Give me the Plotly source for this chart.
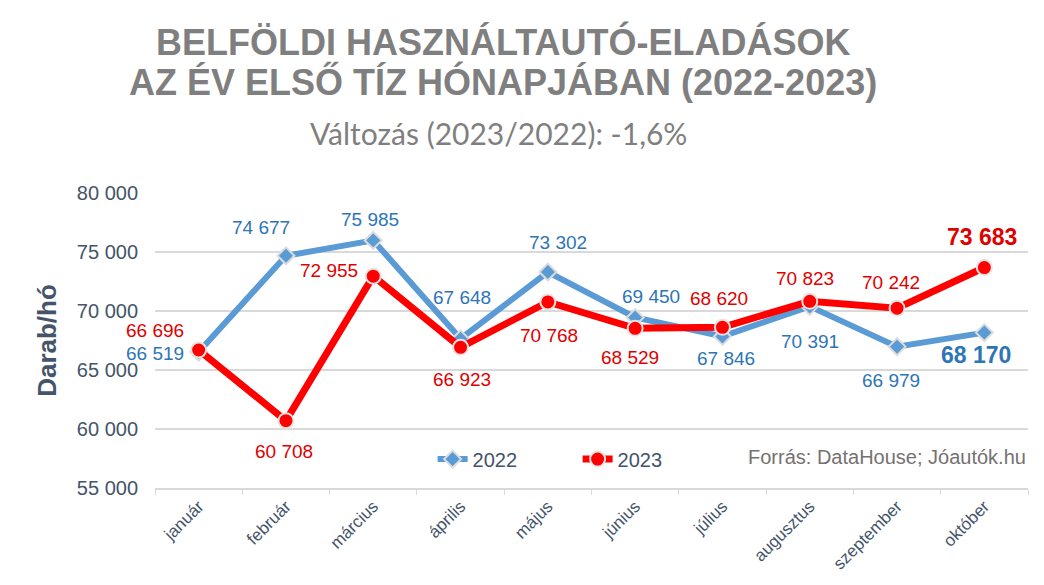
import plotly.graph_objects as go

months = ["január", "február", "március", "április", "május",
          "június", "július", "augusztus", "szeptember", "október"]
sales_2022 = [66519, 74677, 75985, 67648, 73302, 69450, 67846, 70391, 66979, 68170]
sales_2023 = [66696, 60708, 72955, 66923, 70768, 68529, 68620, 70823, 70242, 73683]

# label placement (pixel shifts from the point)
shift_2022 = [(-13, -1, "right"), (-25, 28, "center"), (-3, 21, "center"), (1, 41, "center"),
              (10, 30, "center"), (16, 21, "center"), (4, -22, "center"), (0, -35, "center"),
              (-6, -34, "center"), (-8, -22, "center")]
shift_2023 = [(-13, 19, "right"), (-2, -31, "center"), (-13, 6, "right"), (1, -32, "center"),
              (1, -34, "center"), (-5, -29, "center"), (-3, 29, "center"), (-5, 23, "center"),
              (-6, 26, "center"), (-2, 31, "center")]

BLUE = "#5b9bd5"
BLUE_TXT = "#2e75b6"
RED = "#ff0000"
RED_TXT = "#e00000"
SLATE = "#44546a"
GREY = "#7f7f7f"
FONT = "Liberation Sans, Arial, sans-serif"


def fmt(v):
    return f"{v:,}".replace(",", " ")


fig = go.Figure()
fig.add_trace(go.Scatter(
    x=months, y=sales_2022, name="2022", mode="lines+markers",
    line=dict(color=BLUE, width=6),
    marker=dict(symbol="diamond", size=13, color=BLUE, line=dict(color="#dcdcdc", width=2))))
fig.add_trace(go.Scatter(
    x=months, y=sales_2023, name="2023", mode="lines+markers",
    line=dict(color=RED, width=7),
    marker=dict(symbol="circle", size=15, color=RED, line=dict(color="#e8e2e2", width=2))))

annots = []
for series, shifts, col in [(sales_2022, shift_2022, BLUE_TXT), (sales_2023, shift_2023, RED_TXT)]:
    for i, (m, v) in enumerate(zip(months, series)):
        dx, dy, anc = shifts[i]
        last = i == len(months) - 1
        txt = f"<b>{fmt(v)}</b>" if last else fmt(v)
        annots.append(dict(x=m, y=v, xref="x", yref="y", text=txt, showarrow=False,
                           xshift=dx, yshift=dy, xanchor=anc, yanchor="middle",
                           font=dict(family=FONT, size=23 if last else 19, color=col)))

# title lines and subtitle (paper coords: plot spans y 193..488 px)
title_lines = ["<b>BELFÖLDI HASZNÁLTAUTÓ-ELADÁSOK</b>",
               "<b>AZ ÉV ELSŐ TÍZ HÓNAPJÁBAN (2022-2023)</b>"]
for txt, py in zip(title_lines, [42, 82]):
    annots.append(dict(x=(503 - 155) / 873, y=(488 - py) / 295, xref="paper", yref="paper",
                       text=txt, showarrow=False, xanchor="center", yanchor="middle",
                       font=dict(family=FONT, size=36, color=GREY)))
annots.append(dict(x=(498 - 155) / 873, y=(488 - 133) / 295, xref="paper", yref="paper",
                   showarrow=False, text="Változás (2023/2022): -1,6%",
                   xanchor="center", yanchor="middle",
                   font=dict(family="Lato, Open Sans, sans-serif", size=30, color=GREY)))
annots.append(dict(x=1.0, y=0.106, xref="paper", yref="paper", showarrow=False,
                   text="Forrás: DataHouse; Jóautók.hu", xanchor="right", yanchor="middle",
                   font=dict(family=FONT, size=20, color="#767171")))

fig.update_layout(
    width=1044, height=585,
    margin=dict(l=155, r=16, t=193, b=97),
    paper_bgcolor="white", plot_bgcolor="white",
    showlegend=True,
    legend=dict(orientation="h", x=0.318, y=0.098, xanchor="left", yanchor="middle",
                font=dict(family=FONT, size=20, color=SLATE), bgcolor="rgba(0,0,0,0)",
                entrywidth=100, entrywidthmode="pixels", tracegroupgap=0),
    annotations=annots,
    separators=", ",
)
fig.update_xaxes(
    type="category", range=[-0.5, len(months) - 0.5], tickangle=-45, tickson="boundaries",
    ticks="outside", ticklen=5, tickcolor="#d9d9d9",
    showline=True, linecolor="#d9d9d9", linewidth=1.5, showgrid=False,
    automargin=False,
    tickfont=dict(family=FONT, size=17, color=SLATE))
fig.update_yaxes(
    range=[55000, 80000], dtick=5000, tickformat=",d",
    showgrid=True, gridcolor="#d9d9d9", gridwidth=1.5, zeroline=False,
    ticks="", ticklabelstandoff=16, automargin=False,
    tickfont=dict(family=FONT, size=20, color=SLATE),
    title=dict(text="<b>Darab/hó</b>", standoff=12,
               font=dict(family=FONT, size=26, color=SLATE)))

fig.write_html("out.html", config={"displayModeBar": False},
               post_script="document.body.style.margin='0';")
